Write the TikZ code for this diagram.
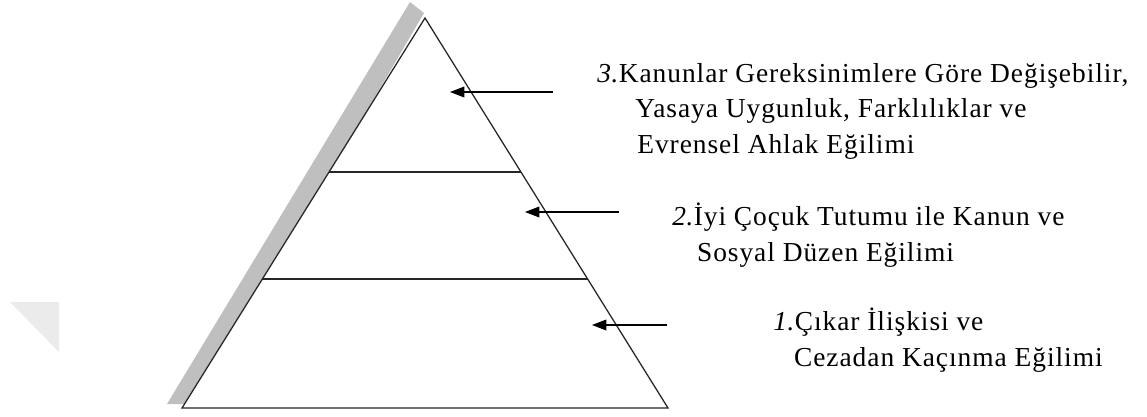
\documentclass[tikz,border=0pt]{standalone}
\usepackage{fontspec}
\setmainfont{Liberation Serif}[LetterSpace=3.5]
\usetikzlibrary{arrows.meta,calc}

\begin{document}
\begin{tikzpicture}[
  x=0.025cm, y=-0.025cm,
  >={Triangle[length=0.36cm,width=0.27cm]},
  edge/.style={draw=black!85, line width=0.9pt},
  shadow/.style={fill=black!25, draw=none},
  pointer/.style={->, line width=0.8pt},
  lab/.style={font=\fontsize{19.5}{25}\selectfont, align=left, anchor=base west, inner sep=0pt}
]
  \useasboundingbox (0,0) rectangle (1147,416);

  % faded mark at the left margin
  \fill[black!8] (10,302) -- (59,302) -- (59,352) -- cycle;

  % pyramid with its shadow
  \coordinate (apex) at (425,18);
  \coordinate (bl) at (182,408);
  \coordinate (br) at (668,408);
  \path[shadow] (410,2) -- (424,13) -- (196,404) -- (167,404) -- cycle;
  \path[edge, fill=white] (apex) -- (bl) -- (br) -- cycle;
  \draw[edge] ($(apex)!0.395!(bl)$) -- ($(apex)!0.395!(br)$);
  \draw[edge] ($(apex)!0.669!(bl)$) -- ($(apex)!0.669!(br)$);

  % stage labels (anchored at the last line)
  \node[lab] (stage3) at (597,153)
    {\textit{3}.Kanunlar Gereksinimlere Göre Değişebilir,\\
     \hspace*{0.95cm}Yasaya Uygunluk, Farklılıklar ve\\
     \hspace*{1.0cm}Evrensel Ahlak Eğilimi};
  \node[lab] (stage2) at (672,261)
    {\textit{2}.İyi Çoçuk Tutumu ile Kanun ve\\
     \hspace*{0.62cm}Sosyal Düzen Eğilimi};
  \node[lab] (stage1) at (773,366)
    {\textit{1}.Çıkar İlişkisi ve\\
     \hspace*{0.52cm}Cezadan Kaçınma Eğilimi};

  % arrows into the levels
  \coordinate (from3) at (553,92);
  \coordinate (to3) at (450,92);
  \coordinate (from2) at (619,212);
  \coordinate (to2) at (525,212);
  \coordinate (from1) at (667,325);
  \coordinate (to1) at (592,325);
  \draw[pointer] (from3) -- (to3);
  \draw[pointer] (from2) -- (to2);
  \draw[pointer] (from1) -- (to1);
\end{tikzpicture}
\end{document}
